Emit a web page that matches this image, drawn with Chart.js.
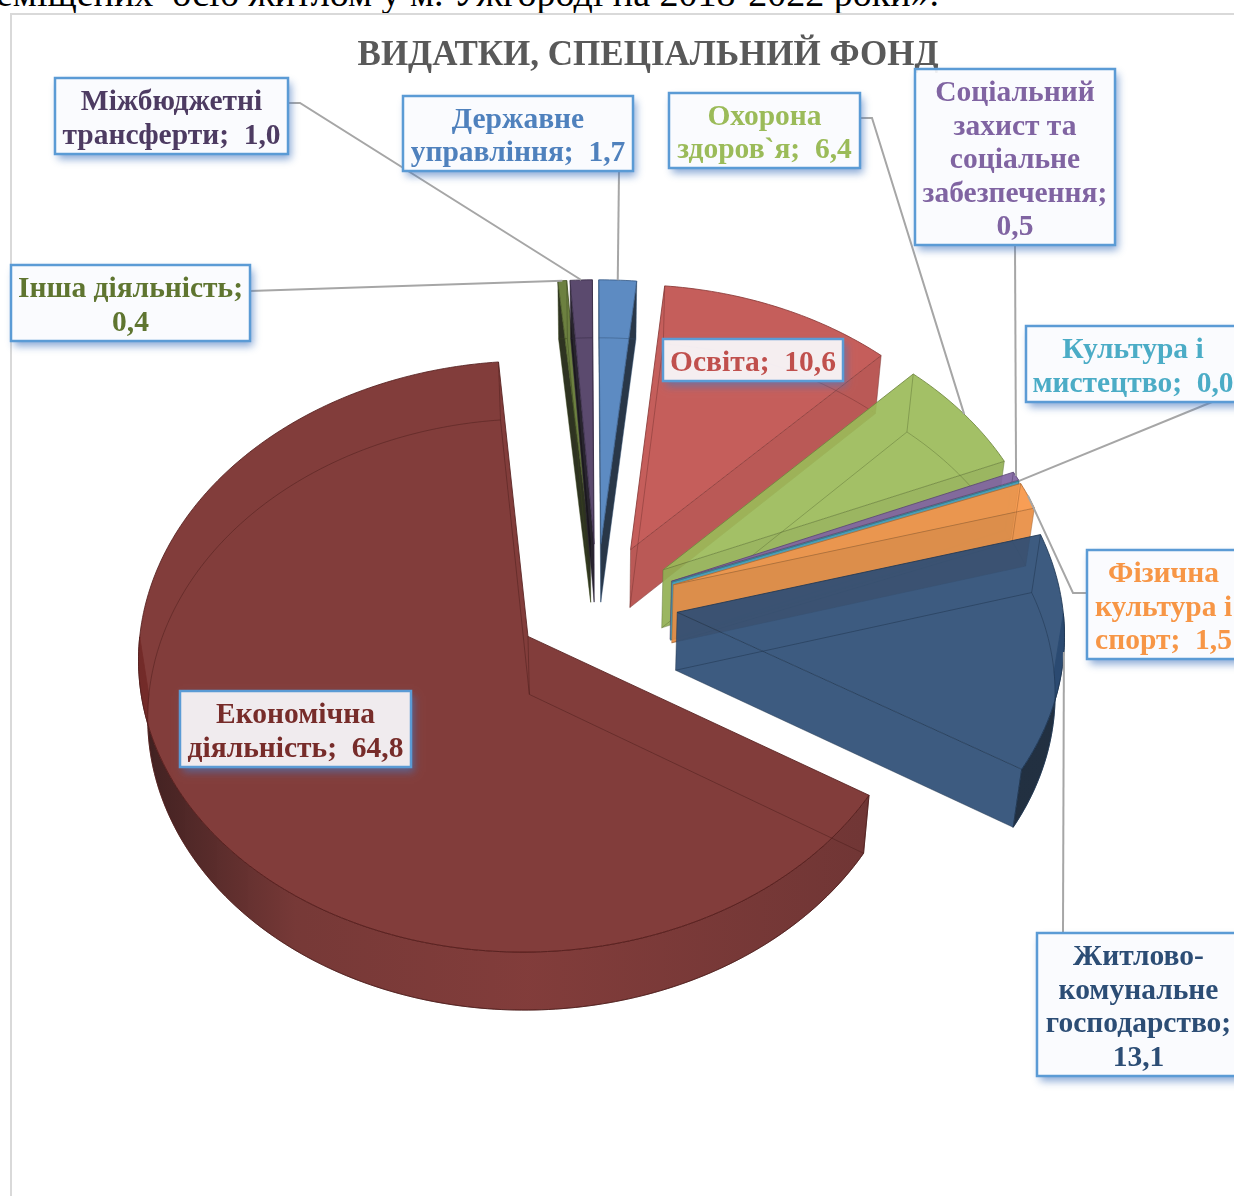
<!DOCTYPE html>
<html lang="uk">
<head>
<meta charset="utf-8">
<title>Видатки, спеціальний фонд</title>
<script src="https://cdn.jsdelivr.net/npm/chart.js@4"></script>
<style>
  html, body { margin: 0; background: #fff; }
  #page { position: relative; width: 1234px; height: 1196px; overflow: hidden; }
  #docline { position: absolute; left: -4px; top: -29px; white-space: pre; font: 38px "Liberation Serif", serif; color: #000; }
  #frame { position: absolute; left: 10px; top: 13px; width: 1300px; height: 1300px; border: 2px solid #d9d9d9; }
  canvas { position: absolute; left: 0; top: 0; }
</style>
</head>
<body>
<div id="page">
  <div id="docline">еміщених  осіб житлом у м. Ужгороді на 2018-2022 роки».</div>
  <div id="frame"></div>
  <canvas id="chart" width="1234" height="1196"></canvas>
</div>
<script>
const title = "ВИДАТКИ, СПЕЦІАЛЬНИЙ ФОНД";

const categories = ["Державне управління", "Освіта", "Охорона здоров`я", "Соціальний захист та соціальне забезпечення", "Культура і мистецтво", "Фізична культура і спорт", "Житлово-комунальне господарство", "Економічна діяльність", "Інша діяльність", "Міжбюджетні трансферти"];
const values = [1.7, 10.6, 6.4, 0.5, 0.0, 1.5, 13.1, 64.8, 0.4, 1.0];
const colors = ["#4F81BD", "#C0504D", "#9BBB59", "#8064A2", "#4BACC6", "#F79646", "#2C4D75", "#772C2A", "#5F7530", "#4D3B62"];

// how the names wrap inside their boxes
const labelLines = [
  ["Державне", "управління;  "],
  ["Освіта;  "],
  ["Охорона", "здоров`я;  "],
  ["Соціальний", "захист та", "соціальне", "забезпечення;", ""],
  ["Культура і", "мистецтво;  "],
  ["Фізична", "культура і", "спорт;  "],
  ["Житлово-", "комунальне", "господарство;", ""],
  ["Економічна", "діяльність;  "],
  ["Інша діяльність;", ""],
  ["Міжбюджетні", "трансферти;  "]
];
// box x, y, w, h
const labelBoxes = [
  [403, 96, 230, 75],
  [663, 339, 180, 42],
  [669, 93, 191, 75],
  [915, 69, 200, 176],
  [1026, 326, 214, 76],
  [1087, 550, 153, 109],
  [1037, 933, 203, 143],
  [180, 691, 231, 76],
  [11, 265, 239, 76],
  [55, 78, 233, 76]
];
// start of each leader line at the box, then optional elbow
const leaderStarts = [
  [[619, 171]],
  null,
  [[860, 118], [872, 118]],
  [[1015, 245]],
  [[1212, 402]],
  [[1087, 593], [1073, 593]],
  [[1063, 933]],
  null,
  [[250, 291]],
  [[288, 103], [300, 103]]
];

const viewShiftX = -51, viewK = 0.732, viewP = 0.00017, viewS = 0.973;
const depth = 58, depthScale = 0.98;
const labelFont = 'bold 29.5px "Liberation Serif", serif';

function shade(hex, f, a) {
  const n = parseInt(hex.slice(1), 16);
  const r = Math.round((n >> 16 & 255) * f), g = Math.round((n >> 8 & 255) * f), b = Math.round((n & 255) * f);
  return "rgba(" + r + "," + g + "," + b + "," + a + ")";
}

// plane point (relative to pie centre) -> screen
function project(arc, px, py, bottom) {
  const w = 1 / (1 - viewP * py);
  let x = px * w * viewS;
  let y = py * w * viewK;
  if (bottom) { x *= depthScale; y += depth; }
  return [arc.x + viewShiftX + x, arc.y + y];
}

function rimPoints(arc, bottom) {
  const mid = (arc.startAngle + arc.endAngle) / 2, off = arc.options.offset;
  const ox = Math.cos(mid) * off, oy = Math.sin(mid) * off;
  const pts = [], near = [], steps = Math.max(2, Math.ceil((arc.endAngle - arc.startAngle) * 60));
  for (let i = 0; i <= steps; i++) {
    const a = arc.startAngle + (arc.endAngle - arc.startAngle) * i / steps;
    const p = project(arc, ox + Math.cos(a) * arc.outerRadius, oy + Math.sin(a) * arc.outerRadius, bottom);
    pts.push(p);
    if (Math.sin(a) > 0) near.push(p);
  }
  return { pts: pts, near: near, apex: project(arc, ox, oy, bottom) };
}

function outline(ctx, pts, closed) {
  ctx.beginPath();
  pts.forEach((p, i) => i ? ctx.lineTo(p[0], p[1]) : ctx.moveTo(p[0], p[1]));
  if (closed) ctx.closePath();
}

function poly(ctx, pts, fill, stroke) {
  outline(ctx, pts, true);
  ctx.fillStyle = fill;
  ctx.fill();
  if (stroke) {
    ctx.strokeStyle = stroke;
    ctx.lineWidth = 1;
    ctx.stroke();
  }
}

// only walls that stick out from under the top face get a fill
function wallExposed(angle, isEnd) {
  return isEnd ? Math.cos(angle) > 0 : Math.cos(angle) < 0;
}

// walls nearly along the view direction are dark
function wallFactor(angle) {
  const s = Math.abs(Math.sin(angle));
  if (s < 0.8 || Math.sin(angle) > 0) return Math.sin(angle) > 0 ? 1 : 0.94;
  return 0.94 - (s - 0.8) / 0.2 * 0.66;
}

function drawSlice(ctx, arc, color) {
  const top = rimPoints(arc, false), bot = rimPoints(arc, true);
  const line = shade(color, 0.72, 0.85);
  const faint = shade(color, 0.6, 0.45);
  const n = top.pts.length - 1;

  if (wallExposed(arc.startAngle, false)) {
    poly(ctx, [top.apex, top.pts[0], bot.pts[0], bot.apex], shade(color, wallFactor(arc.startAngle), 0.92));
  }
  if (wallExposed(arc.endAngle, true)) {
    poly(ctx, [top.apex, top.pts[n], bot.pts[n], bot.apex], shade(color, wallFactor(arc.endAngle), 0.92));
  }

  if (top.near.length > 1) {
    const g = ctx.createLinearGradient(138, 0, 1063, 0);
    g.addColorStop(0, shade(color, 0.42, 0.94));
    g.addColorStop(0.17, shade(color, 0.9, 0.92));
    g.addColorStop(0.42, shade(color, 1, 0.92));
    g.addColorStop(0.78, shade(color, 0.85, 0.92));
    g.addColorStop(0.94, shade(color, 0.45, 0.94));
    poly(ctx, top.near.concat(bot.near.slice().reverse()), g, line);
  }

  poly(ctx, [top.apex].concat(top.pts), shade(color, 1, 0.92), line);

  // edges underneath stay visible through the glass
  ctx.lineWidth = 1;
  ctx.strokeStyle = faint;
  outline(ctx, [bot.apex].concat(bot.pts), true);
  ctx.stroke();
  outline(ctx, [top.pts[0], bot.pts[0]], false);
  ctx.stroke();
  outline(ctx, [top.pts[n], bot.pts[n]], false);
  ctx.stroke();
  outline(ctx, [top.apex, bot.apex], false);
  ctx.stroke();
}

function drawLabels(chart) {
  const ctx = chart.ctx, arcs = chart.getDatasetMeta(0).data;
  ctx.save();
  arcs.forEach((arc, i) => {
    if (!leaderStarts[i]) return;
    const mid = (arc.startAngle + arc.endAngle) / 2, r = arc.outerRadius + arc.options.offset;
    const end = project(arc, Math.cos(mid) * r, Math.sin(mid) * r, false);
    outline(ctx, leaderStarts[i].concat([end]), false);
    ctx.strokeStyle = "#a6a6a6";
    ctx.lineWidth = 2;
    ctx.stroke();
  });
  arcs.forEach((arc, i) => {
    const b = labelBoxes[i];
    // shadow only outside the box so the see-through fill stays clean
    ctx.save();
    ctx.beginPath();
    ctx.rect(0, 0, chart.width, chart.height);
    ctx.rect(b[0], b[1], b[2], b[3]);
    ctx.clip("evenodd");
    ctx.shadowColor = "rgba(70,120,190,0.65)";
    ctx.shadowBlur = 8;
    ctx.shadowOffsetX = 3;
    ctx.shadowOffsetY = 5;
    ctx.fillStyle = "#fff";
    ctx.fillRect(b[0], b[1], b[2], b[3]);
    ctx.restore();
    ctx.fillStyle = "rgba(250,251,254,0.92)";
    ctx.fillRect(b[0], b[1], b[2], b[3]);
    ctx.strokeStyle = "#5B9BD5";
    ctx.lineWidth = 2.5;
    ctx.strokeRect(b[0], b[1], b[2], b[3]);

    const valueText = values[i].toFixed(1).replace(".", ",");
    const lines = labelLines[i];
    ctx.font = labelFont;
    ctx.fillStyle = colors[i];
    ctx.textAlign = "center";
    ctx.textBaseline = "alphabetic";
    const lh = 33.5, first = b[1] + b[3] / 2 - (lines.length - 1) * lh / 2 + 11;
    lines.forEach((t, k) => {
      const txt = k === lines.length - 1 ? t + valueText : t;
      ctx.fillText(txt, b[0] + b[2] / 2, first + k * lh);
    });
  });
  ctx.restore();
}

const pie3d = {
  id: "pie3d",
  beforeDatasetDraw(chart, args) {
    const ds = chart.data.datasets[args.index];
    chart.getDatasetMeta(args.index).data.forEach((arc, i) => {
      drawSlice(chart.ctx, arc, ds.backgroundColor[i]);
    });
    return false;
  },
  afterDatasetsDraw(chart) {
    drawLabels(chart);
  }
};

new Chart(document.getElementById("chart"), {
  type: "pie",
  data: {
    labels: categories,
    datasets: [{ data: values, backgroundColor: colors, offset: 83 }]
  },
  options: {
    responsive: false,
    animation: false,
    rotation: -0.3,
    radius: 396,
    layout: { padding: { left: 62, right: 0, top: 0, bottom: 65 } },
    plugins: {
      legend: { display: false },
      tooltip: { enabled: false },
      title: {
        display: true,
        text: title,
        color: "#595959",
        font: { family: '"Liberation Serif", serif', size: 35, weight: "bold", lineHeight: 1.2 },
        padding: { top: 35, bottom: 0 }
      }
    }
  },
  plugins: [pie3d]
});
</script>
</body>
</html>
